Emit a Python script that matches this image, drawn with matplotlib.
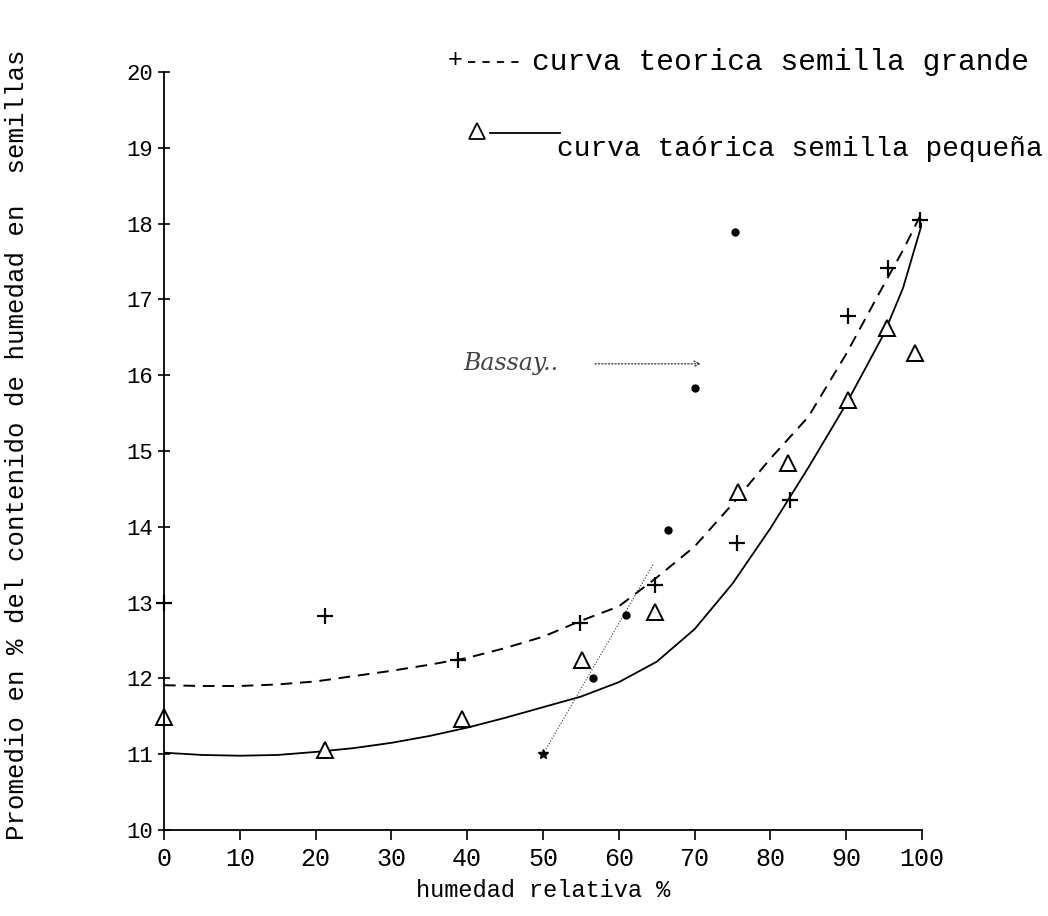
import matplotlib.pyplot as plt

# datos
hr_grande = [0, 21.2, 38.8, 54.9, 64.8, 75.6, 82.6, 90.2, 95.5, 99.7]
cont_grande = [13.0, 12.82, 12.24, 12.73, 13.23, 13.79, 14.35, 16.78, 17.41, 18.05]

hr_pequena = [0, 21.2, 39.3, 55.2, 64.8, 75.7, 82.3, 90.2, 95.4, 99.1]
cont_pequena = [11.49, 11.05, 11.46, 12.24, 12.88, 14.46, 14.84, 15.67, 16.62, 16.29]

hr_manchas = [56.6, 61.0, 66.5, 70.0, 75.3]
cont_manchas = [12.0, 12.84, 13.96, 15.83, 17.89]

# curvas teoricas (puntos leidos a lo largo de cada curva)
curva_x = [0, 5, 10, 15, 20, 25, 30, 35, 40, 45, 50, 55, 60, 65, 70, 75, 80, 85, 90, 95, 97.5, 100]
curva_grande = [11.91, 11.90, 11.90, 11.92, 11.96, 12.03, 12.10, 12.18, 12.27, 12.40, 12.55,
                12.76, 12.95, 13.33, 13.74, 14.30, 14.90, 15.45, 16.28, 17.20, 17.65, 18.15]
curva_pequena = [11.02, 10.99, 10.98, 10.99, 11.03, 11.08, 11.15, 11.24, 11.35, 11.48, 11.62,
                 11.76, 11.95, 12.22, 12.65, 13.25, 13.98, 14.78, 15.62, 16.55, 17.15, 18.0]

# trazo a mano punteado
trazo_x = [50, 64.5]
trazo_y = [11.0, 13.5]

xticks = [0, 10, 20, 30, 40, 50, 60, 70, 80, 90, 100]
yticks = [10, 11, 12, 13, 14, 15, 16, 17, 18, 19, 20]

plt.rcParams['font.family'] = ['Liberation Mono', 'DejaVu Sans Mono']

fig = plt.figure(figsize=(10.48, 9.16), dpi=100)
ax = fig.add_axes([164 / 1048, 86 / 916, 758 / 1048, 758 / 916])

ax.plot(curva_x, curva_grande, color='black', lw=1.4, dashes=(6, 4))
ax.plot(curva_x, curva_pequena, color='black', lw=1.3)
ax.plot(trazo_x, trazo_y, color='#333333', lw=0.8, ls=':')

ax.plot(hr_grande, cont_grande, ls='none', marker='+', ms=11, mew=1.6, color='black', clip_on=False)
ax.plot(hr_pequena, cont_pequena, ls='none', marker='^', ms=11, mew=1.4, mfc='white', mec='black', clip_on=False)
ax.plot(hr_manchas, cont_manchas, ls='none', marker='o', ms=5, color='black')
ax.plot([50], [11.0], ls='none', marker='*', ms=7, color='black')

# nota manuscrita con flecha
ax.text(39.5, 16.15, 'Bassay..', fontsize=17, style='italic', family='DejaVu Serif',
        color='#444444', va='center')
ax.annotate('', xy=(71.2, 16.15), xytext=(56.5, 16.15),
            arrowprops=dict(arrowstyle='->', color='#333333', lw=0.9, ls=':'))

ax.set_xlim(0, 100)
ax.set_ylim(10, 20)
ax.set_xticks(xticks)
ax.set_yticks(yticks)
ax.spines['top'].set_visible(False)
ax.spines['right'].set_visible(False)
ax.spines['left'].set_linewidth(1.3)
ax.spines['bottom'].set_linewidth(1.3)
ax.tick_params(axis='x', direction='out', length=7, width=1.2, labelsize=18, pad=5)
ax.tick_params(axis='y', direction='inout', length=8, width=1.2, labelsize=16, pad=4)

ax.set_xlabel('humedad relativa %', fontsize=17, labelpad=6)
ax.set_ylabel('Promedio en % del contenido de humedad en  semillas', fontsize=18.5)
ax.yaxis.set_label_coords(-0.178, 0.508)

# leyenda dibujada a mano
fig.text(455 / 1048, 1 - 60 / 916, '+', fontsize=18, ha='center', va='center')
fig.lines.append(plt.Line2D([468 / 1048, 525 / 1048], [1 - 62 / 916, 1 - 62 / 916],
                            transform=fig.transFigure, color='black', lw=1.3, dashes=(4, 4)))
fig.text(532 / 1048, 1 - 62 / 916, 'curva teorica semilla grande', fontsize=21.3, va='center')

fig.lines.append(plt.Line2D([477 / 1048], [1 - 131 / 916], transform=fig.transFigure,
                            marker='^', ms=11, mfc='white', mec='black', mew=1.3, ls='none'))
fig.lines.append(plt.Line2D([490 / 1048, 560 / 1048], [1 - 133 / 916, 1 - 133 / 916],
                            transform=fig.transFigure, color='black', lw=1.3))
fig.text(557 / 1048, 1 - 149 / 916, 'curva taórica semilla pequeña', fontsize=20.1, va='center')

fig.savefig('out.png', dpi=100, facecolor='white')
